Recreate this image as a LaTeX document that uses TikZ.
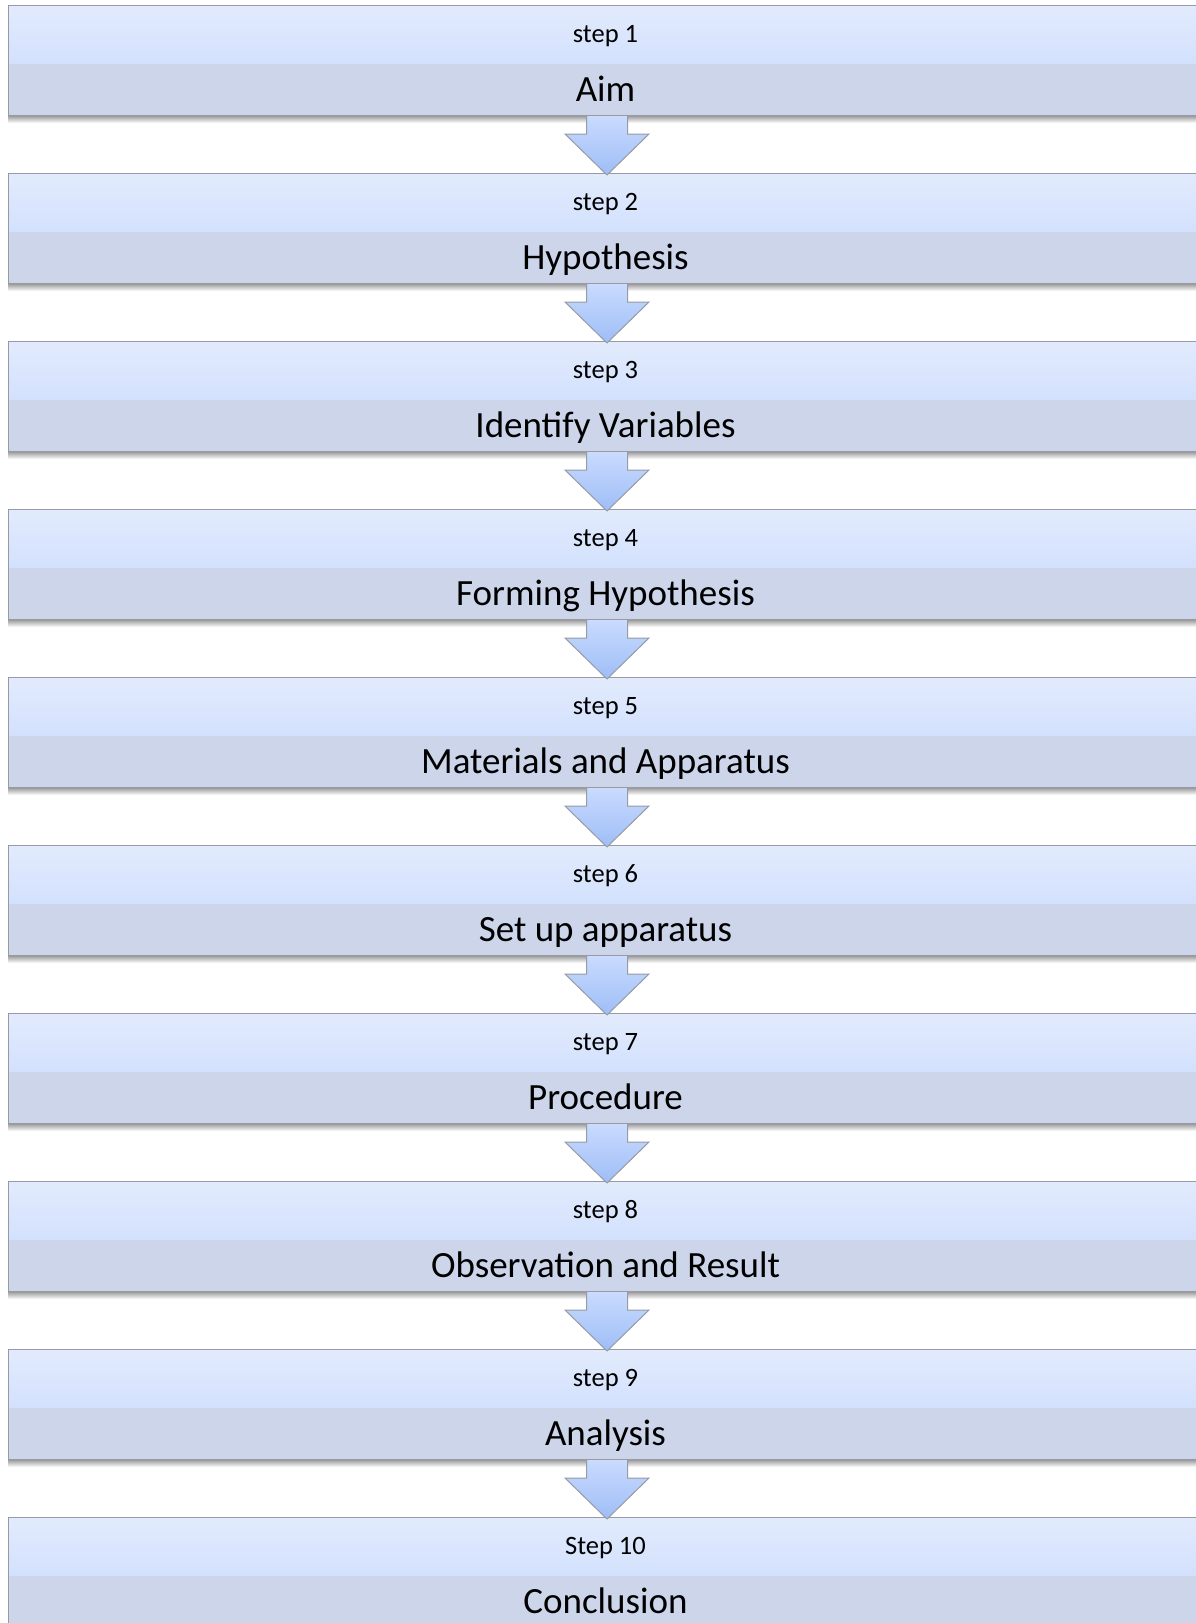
\documentclass[tikz,border=0pt]{standalone}
\usepackage{fontspec}
\setmainfont{Carlito}
\usetikzlibrary{calc}
\definecolor{bandtop}{HTML}{E2EBFD}
\definecolor{bandbot}{HTML}{C6D8FD}
\definecolor{greyband}{HTML}{CCD5EA}
\definecolor{edgegrey}{HTML}{979AA2}
\definecolor{arrtop}{HTML}{C9DBFE}
\definecolor{arrbot}{HTML}{9EBDF7}
\tikzset{
  stepbox/.style={anchor=north west,minimum width=1194pt,minimum height=110pt,inner sep=0pt,draw=edgegrey,line width=1pt,
    path picture={\shade[top color=bandtop,bottom color=bandbot] ([yshift=52pt]path picture bounding box.south west) rectangle (path picture bounding box.north east);
      \fill[greyband] (path picture bounding box.south west) rectangle ([yshift=52pt]path picture bounding box.south east);}},
  steplab/.style={anchor=base,inner sep=0pt,font=\fontsize{26.5}{30}\selectfont},
  titlelab/.style={anchor=base,inner sep=0pt,font=\fontsize{37}{42}\selectfont},
  downarrow/.style={top color=arrtop,bottom color=arrbot,draw=edgegrey,line width=1pt}
}
\begin{document}
\begin{tikzpicture}[x=1pt,y=1pt,line join=miter]
\useasboundingbox[fill=white] (0,0) rectangle (1196,-1623);
\foreach \lab/\ttl [count=\i] in {step 1/Aim,step 2/Hypothesis,step 3/Identify Variables,step 4/Forming Hypothesis,step 5/Materials and Apparatus,step 6/Set up apparatus,step 7/Procedure,step 8/Observation and Result,step 9/Analysis,Step 10/Conclusion}{
  \node[stepbox] (b\i) at (8,{-5-168*(\i-1)}) {};
  \shade[top color=black!38,bottom color=white] (b\i.south west) rectangle ([yshift=-7pt]b\i.south east);
  \node[steplab] (s\i) at ([yshift=-37pt]b\i.north) {\lab};
  \node[titlelab] (t\i) at ([yshift=-96pt]b\i.north) {\ttl};
}
\foreach \i [evaluate=\i as \j using int(\i+1)] in {1,...,9}{
  \path ([xshift=1.5pt]b\i.south) coordinate (a\i) ([xshift=1.5pt,yshift=-2pt]b\j.north) coordinate (h\i);
  \shadedraw[downarrow] ($(a\i)+(-20.5,0)$) -- ($(a\i)+(-20.5,-18)$) -- ($(a\i)+(-42,-18)$) -- (h\i) -- ($(a\i)+(42,-18)$) -- ($(a\i)+(20.5,-18)$) -- ($(a\i)+(20.5,0)$);
}
\end{tikzpicture}
\end{document}
